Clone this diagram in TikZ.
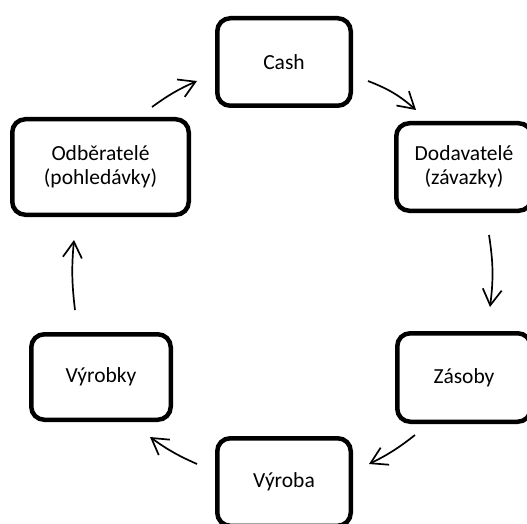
\documentclass[tikz,border=0pt]{standalone}
\usepackage{fontspec}
\setmainfont{Carlito}
\usetikzlibrary{arrows.meta}
\tikzset{
  box/.style={draw=black, line width=4.5pt, rounded corners=13pt, align=center,
    font=\fontsize{21.5}{24}\selectfont, inner sep=0pt},
  flow/.style={line width=1.7pt, -{Straight Barb[length=16pt,width=19pt,line width=1.7pt]}}
}
\begin{document}
\begin{tikzpicture}[x=1pt,y=-1pt]
\useasboundingbox (0,0) rectangle (527,524);
\clip (0,0) rectangle (527,524);
\node[box, minimum width=133.5pt, minimum height=87.5pt] (cash) at (284,62) {Cash};
\node[box, minimum width=135.5pt, minimum height=87.5pt] (dod) at (464,167) {Dodavatelé\\(závazky)};
\node[box, minimum width=176.5pt, minimum height=95.5pt] (odb) at (100.5,167) {Odběratelé\\(pohledávky)};
\node[box, minimum width=139.5pt, minimum height=85.5pt] (vyrobky) at (101,377) {Výrobky};
\node[box, minimum width=133.5pt, minimum height=88.5pt] (zas) at (464,377.5) {Zásoby};
\node[box, minimum width=133.5pt, minimum height=87.5pt] (vyroba) at (284,482) {Výroba};
\coordinate (a1s) at (152,107); \coordinate (a1e) at (197,81);
\coordinate (a2s) at (368,81);  \coordinate (a2e) at (416,110);
\coordinate (a3s) at (489,235); \coordinate (a3e) at (490,307);
\coordinate (a4s) at (415,435); \coordinate (a4e) at (369,464);
\coordinate (a5s) at (197,464); \coordinate (a5e) at (150,437);
\coordinate (a6s) at (75,310);  \coordinate (a6e) at (74,240);
\draw[flow] (a1s) to[bend left=6] (a1e);
\draw[flow] (a2s) to[bend left=10] (a2e);
\draw[flow] (a3s) to[bend left=8] (a3e);
\draw[flow] (a4s) to[bend left=6] (a4e);
\draw[flow] (a5s) to[bend left=6] (a5e);
\draw[flow] (a6s) to[bend left=6] (a6e);
\end{tikzpicture}
\end{document}
